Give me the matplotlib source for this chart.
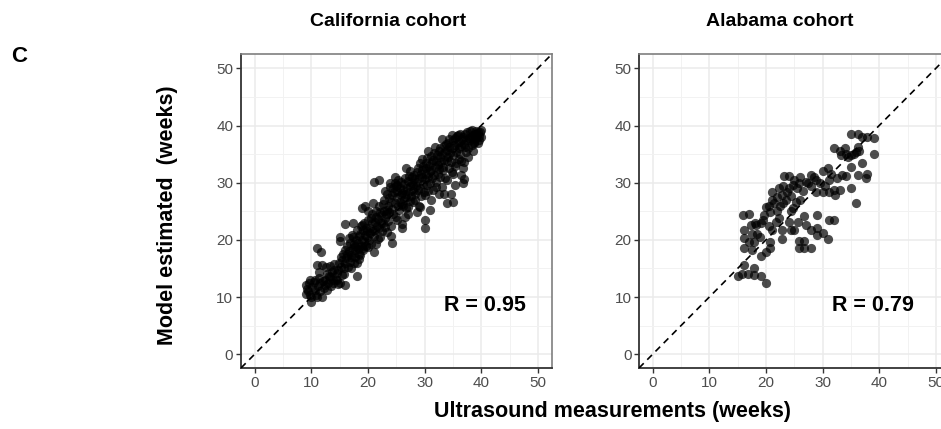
import numpy as np
import matplotlib.pyplot as plt

plt.rcParams['font.family'] = ['Liberation Sans', 'DejaVu Sans']

# California cohort: ultrasound GA vs model estimate (weeks)
ca_x = [
    9.0, 9.0, 9.2, 9.5, 9.6, 9.8, 9.9, 10.0, 10.1, 9.7,
    10.4, 10.6, 10.7, 10.8, 11.0, 11.1, 11.2, 11.0, 11.4, 11.6, 11.8, 11.9, 11.9, 11.5, 12.0, 11.3,
    12.2, 12.4, 12.5, 12.7, 12.8, 13.0, 13.1, 13.3, 13.4, 13.5, 13.6, 13.8, 13.9, 14.0, 14.1, 12.6,
    14.3, 14.5, 14.6, 14.8, 14.9, 15.0, 15.1, 15.1, 15.2, 15.4, 15.5, 15.6, 15.7, 15.8, 16.0, 16.0, 14.7, 15.3, 15.9, 16.0,
    16.2, 16.3, 16.4, 16.5, 16.6, 16.8, 16.9, 17.0, 17.1, 17.2, 17.3, 17.4, 17.4, 17.5, 17.6, 17.7, 17.8, 17.9, 18.0, 18.0, 18.0, 16.7, 17.0, 17.8,
    18.2, 18.3, 18.4, 18.5, 18.6, 18.6, 18.8, 18.9, 18.9, 19.0, 19.1, 19.2, 19.2, 19.3, 19.4, 19.5, 19.6, 19.7, 19.8, 19.9, 20.0, 20.0, 19.5, 18.4, 19.0,
    20.1, 20.2, 20.3, 20.4, 20.5, 20.6, 20.7, 20.8, 20.9, 21.0, 21.0, 21.1, 21.2, 21.3, 21.4, 21.5, 21.6, 21.7, 21.8, 21.9, 22.0, 22.0, 22.1, 21.5, 20.9,
    22.2, 22.3, 22.4, 22.5, 22.6, 22.7, 22.8, 22.9, 23.0, 23.1, 23.2, 23.3, 23.3, 23.4, 23.5, 23.6, 23.7, 23.8, 23.9, 23.9, 24.0, 24.2, 24.1, 24.0, 23.0,
    24.2, 24.3, 24.4, 24.5, 24.6, 24.7, 24.8, 24.9, 25.0, 25.1, 25.1, 25.2, 25.3, 25.4, 25.5, 25.6, 25.7, 25.8, 25.9, 26.0, 26.1, 26.1, 25.2, 26.0, 24.8,
    26.2, 26.3, 26.4, 26.5, 26.6, 26.7, 26.8, 26.8, 26.9, 27.0, 27.1, 27.2, 27.3, 27.4, 27.5, 27.6, 27.7, 27.8, 27.9, 28.0, 27.0, 26.5, 27.5, 28.0, 26.2,
    28.1, 28.2, 28.3, 28.4, 28.5, 28.6, 28.7, 28.8, 28.9, 29.0, 29.1, 29.2, 29.2, 29.2, 29.3, 29.4, 29.5, 29.6, 29.7, 29.8, 29.9, 30.0, 30.0, 30.0, 28.6, 29.6,
    30.1, 30.2, 30.3, 30.3, 30.4, 30.5, 30.6, 30.7, 30.8, 30.9, 31.0, 31.0, 31.1, 31.2, 31.3, 31.4, 31.5, 31.5, 31.6, 31.7, 31.8, 31.9, 32.0, 32.0, 31.2, 30.6,
    32.1, 32.2, 32.3, 32.4, 32.5, 32.6, 32.7, 32.7, 32.8, 32.9, 33.0, 33.0, 33.1, 33.2, 33.3, 33.4, 33.5, 33.6, 33.7, 33.8, 33.9, 33.9, 34.0, 34.0, 32.5, 33.4,
    34.1, 34.2, 34.3, 34.4, 34.4, 34.5, 34.6, 34.7, 34.8, 34.9, 35.0, 35.0, 35.0, 35.1, 35.2, 35.3, 35.4, 35.5, 35.6, 35.7, 35.8, 35.9, 36.0, 36.0, 35.3, 34.8,
    36.1, 36.2, 36.3, 36.4, 36.5, 36.6, 36.8, 36.8, 36.8, 36.9, 37.0, 37.1, 37.2, 37.3, 37.4, 37.5, 37.6, 37.7, 37.8, 38.0, 38.0, 37.0, 36.4,
    38.2, 38.3, 38.4, 38.6, 38.7, 38.8, 38.9, 39.0, 39.1, 39.2, 39.4, 39.5, 39.6, 39.7, 39.8, 39.9, 40.0, 38.5,
]
ca_y = [
    12.1, 10.6, 11.4, 11.0, 12.5, 13.0, 9.2, 10.0, 11.8, 10.3,
    12.6, 11.2, 13.0, 10.4, 15.6, 10.0, 12.0, 18.5, 13.4, 12.4, 17.8, 10.0, 15.6, 11.0, 12.8, 14.3,
    11.6, 13.0, 12.1, 14.0, 11.2, 12.4, 13.6, 13.5, 15.5, 12.0, 14.4, 13.0, 12.4, 14.8, 15.8, 15.2,
    13.2, 13.0, 14.2, 14.7, 16.0, 19.8, 20.5, 12.4, 15.2, 13.8, 16.5, 17.6, 14.1, 15.0, 15.9, 12.1, 12.2, 17.0, 18.3, 22.8,
    16.8, 17.6, 19.0, 15.3, 18.0, 19.4, 16.2, 17.4, 17.0, 20.8, 18.6, 20.5, 22.9, 16.0, 19.2, 18.2, 17.0, 20.0, 15.9, 13.7, 21.8, 20.3, 15.0, 19.0,
    18.4, 19.4, 20.7, 17.6, 21.1, 17.3, 22.4, 25.5, 19.0, 20.0, 18.5, 21.7, 18.2, 23.0, 19.6, 20.9, 22.0, 18.9, 20.5, 21.5, 25.0, 23.4, 26.0, 16.6, 22.6,
    18.8, 20.0, 22.0, 21.2, 23.8, 19.3, 22.9, 24.6, 21.6, 30.2, 17.8, 20.6, 21.7, 23.1, 25.0, 24.0, 22.4, 20.2, 23.6, 26.0, 30.5, 22.0, 20.5, 19.2, 26.4,
    24.8, 23.0, 24.3, 21.6, 26.2, 22.9, 25.0, 27.0, 23.8, 22.2, 24.6, 21.4, 25.2, 28.0, 26.0, 23.3, 27.4, 24.8, 29.3, 29.9, 22.5, 19.4, 20.6, 26.6, 28.6,
    25.4, 27.8, 29.0, 24.6, 28.4, 30.0, 26.4, 29.4, 24.0, 27.5, 29.6, 28.6, 30.4, 26.0, 25.3, 26.7, 29.0, 27.8, 30.2, 28.2, 22.0, 22.7, 23.4, 26.2, 31.0,
    28.7, 29.8, 27.0, 30.8, 28.0, 25.6, 27.5, 32.5, 29.0, 30.3, 25.8, 28.4, 31.2, 26.8, 29.4, 27.6, 31.0, 30.0, 28.6, 26.7, 24.6, 24.0, 32.0, 29.6, 26.0,
    31.4, 30.6, 28.1, 27.0, 29.4, 31.9, 30.2, 32.6, 28.8, 26.0, 30.8, 29.0, 25.8, 33.4, 31.6, 27.6, 31.0, 32.2, 29.8, 33.0, 28.4, 27.8, 22.0, 23.5, 24.8, 34.2,
    30.6, 32.6, 31.6, 33.4, 29.6, 34.4, 31.0, 28.6, 33.0, 30.0, 25.3, 32.0, 34.6, 32.2, 30.8, 33.6, 34.0, 28.7, 31.4, 35.2, 36.3, 32.8, 30.2, 33.8, 27.0, 35.6,
    29.3, 34.8, 31.6, 33.1, 35.6, 32.4, 34.5, 31.0, 36.0, 33.6, 37.7, 29.3, 35.0, 32.8, 32.2, 36.4, 34.0, 35.4, 30.8, 36.8, 26.5, 30.5, 33.8, 35.8, 28.0, 28.0,
    37.0, 34.5, 32.6, 36.3, 37.7, 35.2, 33.6, 28.1, 36.0, 31.8, 37.5, 31.6, 26.7, 34.8, 36.6, 33.0, 37.8, 35.4, 33.4, 36.9, 38.2, 38.3, 34.2, 36.0, 29.6, 38.4,
    37.2, 35.1, 38.5, 36.4, 33.8, 37.6, 38.0, 32.5, 29.9, 30.7, 36.8, 36.3, 38.6, 35.4, 37.4, 38.8, 36.0, 34.5, 37.8, 37.5, 39.0, 33.6, 31.4,
    38.0, 36.6, 39.2, 38.3, 37.2, 36.9, 38.6, 39.0, 37.8, 38.4, 38.9, 37.0, 38.2, 37.5, 38.8, 39.3, 38.0, 35.6,
]

# Alabama cohort
al_x = [
    15.0, 15.8, 16.9, 17.9, 19.1, 16.1, 17.9, 20.0, 16.1, 16.1, 17.0, 17.9, 17.6, 19.1, 20.0, 20.8,
    20.8, 16.0, 17.0, 16.1, 17.3, 18.2, 19.1, 19.7, 20.0, 20.8, 21.7, 22.3, 21.1, 22.9, 22.9, 24.4,
    25.0, 24.1, 25.6, 25.9, 26.7, 26.7, 25.9, 27.9, 27.0, 27.9, 29.1, 30.0, 29.1, 31.0, 26.7, 29.1,
    31.2, 32.0, 21.1, 22.3, 22.9, 23.8, 23.2, 24.1, 24.7, 25.9, 27.0, 27.9, 24.4, 25.3, 26.1, 24.7,
    28.8, 30.0, 31.2, 32.0, 32.2, 30.0, 30.9, 31.2, 32.6, 28.8, 33.0, 32.0, 33.2, 34.1, 35.0, 35.9,
    36.2, 35.0, 34.1, 33.5, 35.0, 35.9, 36.2, 37.6, 37.0, 37.9, 39.1, 35.0, 36.2, 37.0, 37.9, 39.1,
    18.5, 19.5, 20.5, 21.0, 21.5, 22.0, 22.5, 23.0, 23.5, 24.0, 25.0, 25.5, 26.0, 26.5, 27.5, 28.0,
    28.5, 29.5, 30.5, 31.5, 33.0, 34.0, 34.5, 35.5, 36.5, 22.0, 20.5, 18.0, 17.5, 19.0, 23.0, 24.5,
]
al_y = [
    13.6, 14.0, 14.0, 13.9, 13.7, 15.6, 15.0, 12.4, 18.5, 20.3, 19.7, 19.7, 18.2, 17.1, 17.9, 18.5,
    19.7, 24.4, 24.5, 21.7, 22.6, 22.6, 22.9, 24.4, 25.8, 24.9, 23.2, 23.8, 21.7, 21.7, 20.2, 21.7,
    21.7, 23.2, 23.2, 19.8, 19.8, 18.6, 18.6, 18.6, 22.6, 21.7, 22.0, 21.2, 20.9, 20.2, 24.1, 24.4,
    23.5, 23.5, 28.4, 29.0, 27.9, 28.4, 31.1, 31.1, 29.6, 29.9, 30.2, 31.4, 27.6, 26.7, 27.0, 25.5,
    28.4, 28.4, 28.4, 28.7, 27.9, 32.0, 32.5, 30.5, 30.8, 30.5, 28.7, 36.0, 34.8, 35.1, 34.8, 35.4,
    36.3, 32.8, 31.1, 31.4, 29.0, 26.4, 31.4, 30.8, 33.4, 31.6, 35.0, 38.6, 38.6, 38.0, 38.0, 37.8,
    21.0, 23.5, 26.0, 27.0, 26.5, 27.5, 26.0, 29.5, 27.0, 29.0, 30.5, 29.0, 31.0, 28.5, 30.0, 29.5,
    31.0, 30.0, 29.5, 31.5, 35.5, 36.0, 34.5, 35.0, 35.5, 25.0, 22.5, 23.0, 21.0, 20.5, 26.5, 25.0,
]

cohorts = ['California cohort', 'Alabama cohort']
r_values = [0.95, 0.79]
ticks = [0, 10, 20, 30, 40, 50]

fig = plt.figure(figsize=(9.41, 4.29), dpi=100)
ax_ca = fig.add_axes([0.2561, 0.1422, 0.3305, 0.7319])
ax_al = fig.add_axes([0.6791, 0.1422, 0.3305, 0.7319])

panels = [(ax_ca, ca_x, ca_y, 40.7), (ax_al, al_x, al_y, 38.9)]
for (ax, xs, ys, rx), r in zip(panels, r_values):
    ax.set_xlim(-2.4, 52.5)
    ax.set_ylim(-2.4, 52.5)
    ax.set_xticks(ticks)
    ax.set_yticks(ticks)
    ax.set_xticks(np.arange(5, 51, 10), minor=True)
    ax.set_yticks(np.arange(5, 51, 10), minor=True)
    ax.grid(which='major', color='#EBEBEB', lw=1.1, zorder=0)
    ax.grid(which='minor', color='#F2F2F2', lw=0.7, zorder=0)
    ax.tick_params(which='major', length=3.5, width=1, color='#333333',
                   labelsize=11, labelcolor='#4D4D4D', pad=2)
    ax.tick_params(which='minor', length=0)
    for side in ['left', 'bottom']:
        ax.spines[side].set_color('#333333')
        ax.spines[side].set_linewidth(1.3)
    for side in ['top', 'right']:
        ax.spines[side].set_color('#7F7F7F')
        ax.spines[side].set_linewidth(1.2)
    ax.axline((0, 0), slope=1, color='black', lw=1.2, ls=(0, (4, 3)), zorder=3)
    ax.scatter(xs, ys, s=44, color='black', alpha=0.7, linewidths=0, zorder=2)
    ax.text(rx, 8.6, f'R = {r:.2f}', fontsize=15.5, fontweight='bold',
            ha='center', va='center', zorder=4)
    ax.set_axisbelow(True)

fig.text(388 / 941, 1 - 22 / 429, cohorts[0], fontsize=14, fontweight='bold',
         ha='center', va='center')
fig.text(780 / 941, 1 - 22 / 429, cohorts[1], fontsize=14, fontweight='bold',
         ha='center', va='center')
fig.text(19 / 941, 1 - 57 / 429, 'C', fontsize=16, fontweight='bold',
         ha='center', va='center')
fig.text(167 / 941, 1 - 215 / 429, 'Model estimated  (weeks)', fontsize=15.5,
         fontweight='bold', rotation=90, ha='center', va='center')
fig.text(613 / 941, 1 - 412 / 429, 'Ultrasound measurements (weeks)', fontsize=15.5,
         fontweight='bold', ha='center', va='center')

fig.savefig('out.png', dpi=100)
